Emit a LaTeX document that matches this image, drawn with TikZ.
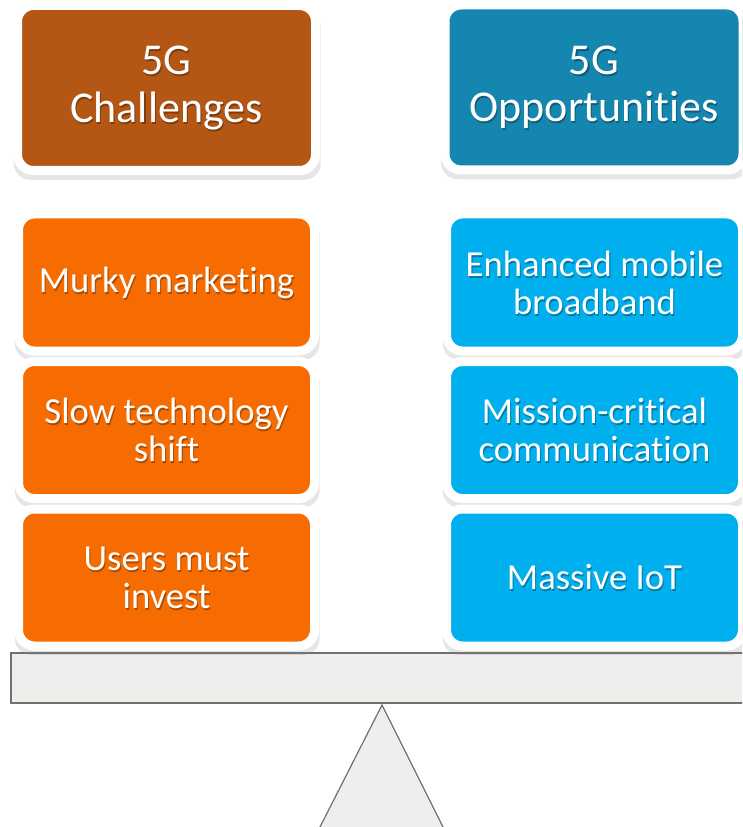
\documentclass[tikz,border=0pt]{standalone}
\usepackage{fontspec}
\setmainfont{Carlito}[Ligatures=NoCommon]
\usetikzlibrary{shadows}
\definecolor{chalhead}{RGB}{181,87,20}
\definecolor{chalbox}{RGB}{247,108,0}
\definecolor{opphead}{RGB}{21,134,175}
\definecolor{oppbox}{RGB}{0,176,238}
\definecolor{beamfill}{RGB}{238,238,236}
\definecolor{beamline}{RGB}{112,112,108}
\tikzset{card/.style = {draw=white, line width=6.75pt, rounded corners=12pt,
  drop shadow={shadow xshift=0.5pt, shadow yshift=-5pt, shadow scale=1.03, opacity=0.2}}}
\tikzset{headcard/.style = {card, minimum width=223.5pt, minimum height=123.75pt}}
\tikzset{itemcard/.style = {card, minimum width=222pt, minimum height=102.75pt}}
\tikzset{headtxt/.style = {align=center, text=white, font=\fontsize{33}{35.5}\selectfont}}
\tikzset{itemtxt/.style = {align=center, text=white, font=\fontsize{27.5}{28.5}\selectfont}}
\tikzset{txtshade/.style = {text=black, text opacity=0.3}}
\tikzset{beam/.style = {fill=beamfill, draw=beamline, line width=0.9pt}}

\begin{document}
\begin{tikzpicture}[x=0.75pt, y=-0.75pt]
  \clip (0, 0) rectangle (742, 827);
  % balance
  \draw [beam] (11, 653) rectangle (760, 703);
  \draw [beam] (303.2, 860) -- (382, 705) -- (459.5, 860);
  % cards
  \node [headcard, fill=chalhead] (chal) at (166.5, 88) {};
  \node [headcard, fill=opphead] (opp) at (594, 87.5) {};
  \foreach \n/\y in {murky/282.5, slow/430, users/577.5}
    \node [itemcard, fill=chalbox] (\n) at (166.5, \y) {};
  \foreach \n/\y in {embb/282.5, mission/430, iot/577.5}
    \node [itemcard, fill=oppbox] (\n) at (594.5, \y) {};
  % labels
  \foreach \n/\t in {chal/5G\\Challenges, opp/5G\\Opportunities} {
    \node [headtxt, txtshade] at ([xshift=0.8pt, yshift=-1.5pt]\n.center) {\t};
    \node [headtxt] at (\n.center) {\t};
  }
  \foreach \n/\t in {murky/Murky marketing, slow/Slow technology\\shift,
    users/Users must\\invest, embb/Enhanced mobile\\broadband,
    mission/Mission-critical\\communication, iot/Massive IoT} {
    \node [itemtxt, txtshade] at ([xshift=0.8pt, yshift=-1.5pt]\n.center) {\t};
    \node [itemtxt] at (\n.center) {\t};
  }
\end{tikzpicture}
\end{document}
